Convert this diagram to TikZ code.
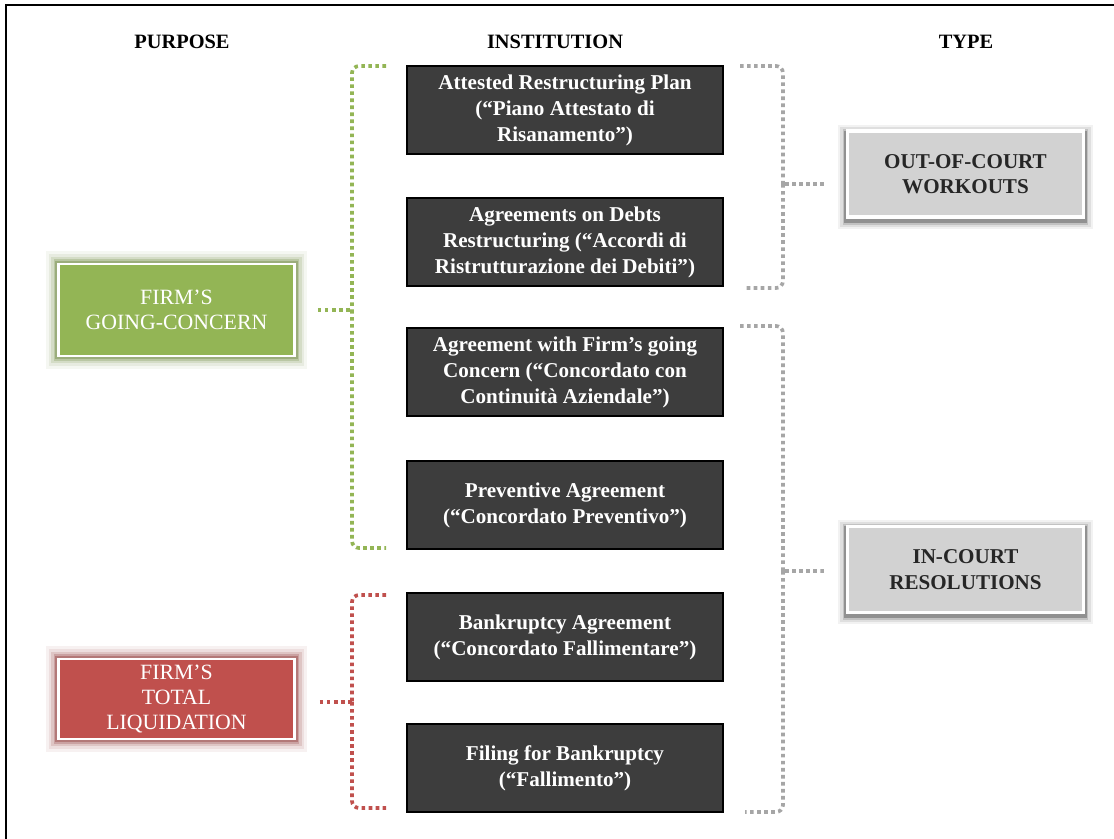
\documentclass[tikz,border=0pt]{standalone}
\usepackage{fontspec}
\setmainfont{Liberation Serif}

\definecolor{gcgreen}{HTML}{93B555}
\definecolor{tlred}{HTML}{C0504D}
\definecolor{instgray}{HTML}{3D3D3D}
\definecolor{typegray}{HTML}{D2D2D2}
\definecolor{bracegray}{HTML}{A6A6A6}

\tikzset{
  head/.style={font=\fontsize{14.5}{17}\selectfont\bfseries},
  inst/.style={draw=black,line width=0.8pt,fill=instgray,text=white,align=center,
    minimum width=7.9cm,minimum height=2.2cm,font=\fontsize{15}{18.5}\selectfont\bfseries},
  purp/.style={draw=white,line width=1.8pt,text=white,align=center,
    minimum width=5.9cm,font=\fontsize{15.5}{17.5}\selectfont,
    preaction={draw=#1!75!black,line width=18pt,opacity=0.07},
    preaction={draw=#1!75!black,line width=14pt,opacity=0.1},
    preaction={draw=#1!75!black,line width=10pt,opacity=0.16},
    preaction={draw=#1!75!black,line width=7pt,opacity=0.25},
    preaction={draw=#1!75!black,line width=4.5pt,opacity=0.4},fill=#1},
  kind/.style={draw=white,line width=2.2pt,fill=typegray,text=black!85,align=center,
    minimum width=5.9cm,minimum height=2.15cm,font=\fontsize{15}{18}\selectfont\bfseries,
    preaction={draw=black,line width=13pt,opacity=0.05,transform canvas={yshift=-2pt}},
    preaction={draw=black,line width=10pt,opacity=0.08,transform canvas={yshift=-2pt}},
    preaction={draw=black,line width=7pt,opacity=0.13,transform canvas={yshift=-2pt}},
    preaction={draw=black,line width=4.5pt,opacity=0.25,transform canvas={yshift=-2pt}}},
  brace/.style={draw=#1,line width=2.6pt,dash pattern=on 2.6pt off 2.4pt,rounded corners=5pt}
}

\begin{document}
\begin{tikzpicture}[x=0.025cm,y=-0.025cm]
  \useasboundingbox (0,0) rectangle (1114,839);
  % marco
  \draw[line width=1.4pt] (6,839)--(6,5)--(1114,5);
  % cabeceras
  \node[head] (hp) at (182,42) {PURPOSE};
  \node[head] (hi) at (555,42) {INSTITUTION};
  \node[head] (ht) at (966,42) {TYPE};
  % instituciones
  \node[inst] (ar) at (565,110) {Attested Restructuring Plan\\(“Piano Attestato di\\Risanamento”)};
  \node[inst] (ad) at (565,242) {Agreements on Debts\\Restructuring (“Accordi di\\Ristrutturazione dei Debiti”)};
  \node[inst] (ac) at (565,372) {Agreement with Firm’s going\\Concern (“Concordato con\\Continuità Aziendale”)};
  \node[inst] (pa) at (565,505) {Preventive Agreement\\(“Concordato Preventivo”)};
  \node[inst] (ba) at (565,637) {Bankruptcy Agreement\\(“Concordato Fallimentare”)};
  \node[inst] (fb) at (565,768) {Filing for Bankruptcy\\(“Fallimento”)};
  % finalidad
  \node[purp=gcgreen,minimum height=2.3cm] (gc) at (176.5,310) {FIRM’S\\GOING-CONCERN};
  \node[purp=tlred,minimum height=2.0cm] (tl) at (176.5,699) {FIRM’S\\TOTAL\\LIQUIDATION};
  % tipo
  \node[kind] (oc) at (965.5,174) {OUT-OF-COURT\\WORKOUTS};
  \node[kind] (ic) at (965.5,569.5) {IN-COURT\\RESOLUTIONS};
  % llaves izquierda
  \draw[brace=gcgreen] (386,66)--(352,66)--(352,310);
  \draw[brace=gcgreen] (352,310)--(352,548)--(386,548);
  \draw[brace=gcgreen] (gc.east) ++(22,0)--(352,310);
  \draw[brace=tlred] (386,595)--(352,595)--(352,702);
  \draw[brace=tlred] (352,702)--(352,808)--(386,808);
  \draw[brace=tlred] (tl.east) ++(24,3)--(352,702);
  % llaves derecha
  \draw[brace=bracegray] (740,66)--(783,66)--(783,184);
  \draw[brace=bracegray] (783,184)--(783,288)--(745,288);
  \draw[brace=bracegray] (oc.west) ++(-22,10)--(783,184);
  \draw[brace=bracegray] (740,326)--(783,326)--(783,571);
  \draw[brace=bracegray] (783,571)--(783,812)--(745,812);
  \draw[brace=bracegray] (ic.west) ++(-22,1.5)--(783,571);
\end{tikzpicture}
\end{document}
